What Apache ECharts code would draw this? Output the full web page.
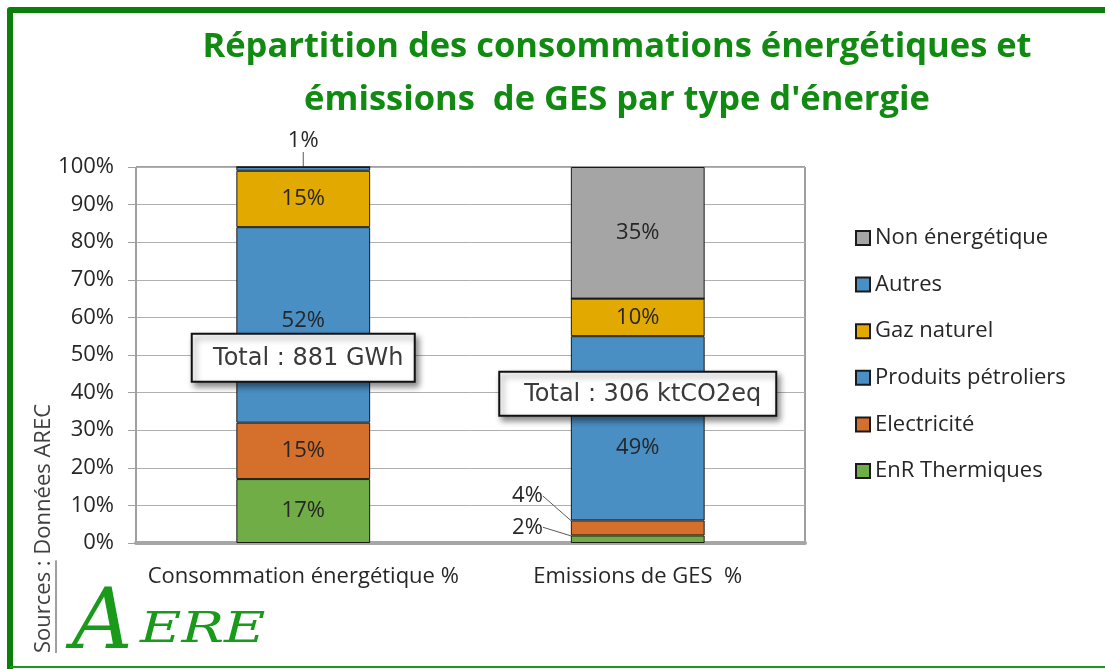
<!DOCTYPE html>
<html>
<head>
<meta charset="utf-8">
<script src="https://cdn.jsdelivr.net/npm/echarts@6/dist/echarts.min.js"></script>
<style>
  html, body { margin: 0; padding: 0; background: #fff; }
  #chart { width: 1105px; height: 669px; }
</style>
</head>
<body>
<div id="chart"></div>
<script>
// categories and values
var categories = ['Consommation énergétique %', 'Emissions de GES  %'];
var enrThermiques = [17, 2];
var electricite = [15, 4];
var produitsPetroliers = [52, 49];
var gazNaturel = [15, 10];
var autres = [1, 0];
var nonEnergetique = [0, 35];
var totals = ['Total : 881 GWh', 'Total : 306 ktCO2eq'];
var yTicks = [0, 10, 20, 30, 40, 50, 60, 70, 80, 90, 100];

var font = '"Open Sans", "Liberation Sans", sans-serif';
var green = '#118a11';
var fs = 22;

var stack = [
    {name: 'EnR Thermiques', data: enrThermiques, color: '#70ad47'},
    {name: 'Electricité', data: electricite, color: '#d4702c'},
    {name: 'Produits pétroliers', data: produitsPetroliers, color: '#4a8fc4'},
    {name: 'Gaz naturel', data: gazNaturel, color: '#e2aa00'},
    {name: 'Autres', data: autres, color: '#4a8fc4'},
    {name: 'Non énergétique', data: nonEnergetique, color: '#a5a5a5'}
];

// small slices get their label moved out of the bar with a leader line
function outsideLabel(name, idx) {
    if (name === 'Autres' && idx === 0) return {position: 'top', dx: 0, dy: -9, line: true};
    if (name === 'Electricité' && idx === 1) return {position: 'left', dx: -22, dy: -32, line: true};
    if (name === 'EnR Thermiques' && idx === 1) return {position: 'left', dx: -22, dy: -12, line: true};
    // keep the big labels clear of the total boxes
    if (name === 'Produits pétroliers' && idx === 0) return {position: 'inside', dx: 0, dy: -4};
    if (name === 'Produits pétroliers' && idx === 1) return {position: 'inside', dx: 0, dy: 19};
    return null;
}

var series = stack.map(function (s) {
    return {
        name: s.name,
        type: 'bar',
        stack: 'total',
        barCategoryGap: '60%',
        itemStyle: {color: s.color, borderColor: '#1a1a1a', borderWidth: 1},
        label: {
            show: true,
            position: 'inside',
            formatter: '{c}%',
            fontFamily: font,
            fontSize: fs,
            color: '#262626'
        },
        labelLayout: function (p) {
            var o = outsideLabel(s.name, p.dataIndex);
            return o ? {dx: o.dx, dy: o.dy} : {};
        },
        data: s.data.map(function (v, i) {
            var o = outsideLabel(s.name, i);
            var item = {value: v};
            if (v === 0) {
                item.label = {show: false};
            } else if (o && o.line) {
                item.label = {position: o.position, distance: 6};
                item.labelLine = {show: true, lineStyle: {color: '#595959', width: 1}};
            }
            return item;
        })
    };
});

var chart = echarts.init(document.getElementById('chart'));
chart.setOption({
    backgroundColor: '#fff',
    animation: false,
    textStyle: {fontFamily: font},
    title: {
        text: 'Répartition des consommations énergétiques et\némissions  de GES par type d\'énergie',
        left: 612,
        top: 16,
        textAlign: 'center',
        textStyle: {
            color: green,
            fontFamily: font,
            fontWeight: 'bold',
            fontSize: 34.5,
            lineHeight: 53
        }
    },
    legend: {
        orient: 'vertical',
        left: 850,
        top: 222,
        itemWidth: 14,
        itemHeight: 14,
        itemGap: 24.6,
        icon: 'rect',
        data: ['Non énergétique', 'Autres', 'Gaz naturel', 'Produits pétroliers', 'Electricité', 'EnR Thermiques'],
        textStyle: {fontFamily: font, fontSize: fs, color: '#262626', lineHeight: 22}
    },
    grid: {
        left: 136,
        right: 300,
        top: 167,
        bottom: 126,
        show: true,
        borderColor: '#404040',
        borderWidth: 1
    },
    xAxis: {
        type: 'category',
        data: categories,
        axisLine: {lineStyle: {color: '#a6a6a6', width: 4}},
        axisTick: {length: 8, lineStyle: {color: '#a6a6a6', width: 4}},
        axisLabel: {interval: 0, fontFamily: font, fontSize: fs, color: '#262626', margin: 23}
    },
    yAxis: {
        type: 'value',
        min: yTicks[0],
        max: yTicks[yTicks.length - 1],
        interval: 10,
        axisLine: {show: true, lineStyle: {color: '#a0a0a0', width: 1}},
        axisTick: {show: true, length: 8, lineStyle: {color: '#a0a0a0'}},
        splitLine: {lineStyle: {color: '#b0b0b0', width: 1}},
        axisLabel: {formatter: '{value}%', fontFamily: font, fontSize: fs, color: '#262626', margin: 22}
    },
    series: series
});

// annotation boxes anchored on the categories, frame, source and logo
var p1 = chart.convertToPixel({gridIndex: 0}, [0, 49.3]);
var p2 = chart.convertToPixel({gridIndex: 0}, [1, 39.7]);
var boxFont = '"DejaVu Sans", sans-serif';

function totalBox(pt, w, h, text) {
    return {
        type: 'group',
        x: pt[0] - w / 2,
        y: pt[1] - h / 2,
        z: 100,
        children: [
            {type: 'rect', z: 100, shape: {x: 0, y: 0, width: w, height: h},
             style: {fill: '#fff', stroke: '#111', lineWidth: 2,
                     shadowBlur: 6, shadowOffsetX: 3, shadowOffsetY: 4, shadowColor: 'rgba(0,0,0,0.45)'}},
            {type: 'text', z: 101, x: w / 2 + 5, y: h / 2 + 1,
             style: {text: text, font: '24px ' + boxFont, fill: '#3a3a3a', align: 'center', verticalAlign: 'middle'}}
        ]
    };
}

var srcFont = '22px ' + font;
var ctx = document.createElement('canvas').getContext('2d');
ctx.font = srcFont;
var srcUnder = ctx.measureText('Sources :').width;

chart.setOption({
    graphic: [
        // green frame
        {type: 'polyline', shape: {points: [[10, 669], [10, 10], [1105, 10]]},
         style: {stroke: '#0a800a', lineWidth: 6, fill: null, lineJoin: 'round'}},
        {type: 'line', shape: {x1: 10, y1: 667, x2: 1105, y2: 667},
         style: {stroke: '#1a9a1a', lineWidth: 2}},
        totalBox(p1, 223, 48, totals[0]),
        totalBox(p2, 277, 44, totals[1]),
        // source, rotated
        {type: 'text', x: 33, y: 653, rotation: Math.PI / 2,
         style: {text: 'Sources : Données AREC', font: srcFont, fill: '#404040', verticalAlign: 'top'}},
        {type: 'line', shape: {x1: 56, y1: 653, x2: 56, y2: 653 - srcUnder},
         style: {stroke: '#404040', lineWidth: 1}},
        // logo
        {type: 'text', x: 72, y: 668,
         style: {text: 'A', font: 'italic 84px "DejaVu Serif", serif', fill: '#1a9a1a', verticalAlign: 'bottom'}},
        {type: 'text', x: 140, y: 652, scaleX: 1.35,
         style: {text: 'ERE', font: 'italic 42px "DejaVu Serif", serif', fill: '#1a9a1a', verticalAlign: 'bottom'}}
    ]
});
</script>
</body>
</html>
